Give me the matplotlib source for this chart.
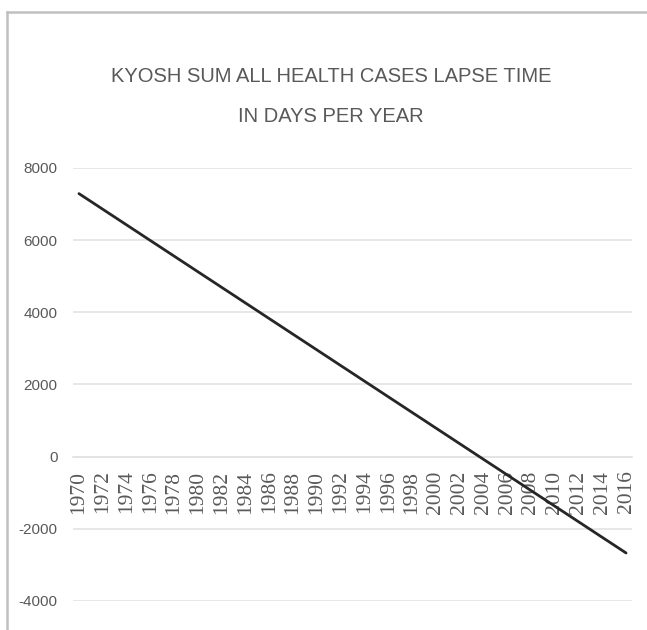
import matplotlib
matplotlib.use("Agg")
import matplotlib.pyplot as plt
from matplotlib import font_manager
from matplotlib.lines import Line2D

years = list(range(1970, 2017))
lapse_days = [7290, 7074, 6857, 6641, 6424, 6208, 5991, 5775, 5558, 5342,
              5125, 4909, 4692, 4476, 4259, 4043, 3826, 3610, 3393, 3177,
              2960, 2744, 2527, 2311, 2094, 1878, 1661, 1445, 1228, 1012,
              795, 579, 362, 146, -71, -287, -504, -720, -937, -1153,
              -1370, -1586, -1803, -2019, -2236, -2452, -2669]
y_ticks = [-4000, -2000, 0, 2000, 4000, 6000, 8000]
title_lines = ["KYOSH SUM ALL HEALTH CASES LAPSE TIME", "IN DAYS PER YEAR"]

names = {f.name for f in font_manager.fontManager.ttflist}
narrow = "Liberation Sans Narrow" if "Liberation Sans Narrow" in names else "Liberation Sans"
serif = "Liberation Serif" if "Liberation Serif" in names else "DejaVu Serif"

W, H = 647, 630
fig = plt.figure(figsize=(W / 100, H / 100), dpi=100)
fig.patch.set_facecolor("white")

# chart border (top and left visible)
fig.add_artist(Line2D([7 / W, 1.0], [1 - 12 / H, 1 - 12 / H], transform=fig.transFigure,
                      color="#c0c0c0", lw=1.8))
fig.add_artist(Line2D([7 / W, 7 / W], [0.0, 1 - 12 / H], transform=fig.transFigure,
                      color="#c0c0c0", lw=1.8))

txt_color = "#595959"
fig.text(0.512, 1 - 76 / H, title_lines[0], ha="center", va="center",
         fontsize=14.5, color=txt_color, family=narrow)
fig.text(0.512, 1 - 116 / H, title_lines[1], ha="center", va="center",
         fontsize=14.5, color=txt_color, family=narrow)

left, right = 73 / W, 632 / W
bottom, top = 1 - 601 / H, 1 - 168 / H
ax = fig.add_axes([left, bottom, right - left, top - bottom])

ax.spines["bottom"].set_position(("data", 0))
ax.spines["bottom"].set_color("#e3e3e3")
ax.spines["bottom"].set_linewidth(1.2)
for s in ["top", "right", "left"]:
    ax.spines[s].set_visible(False)

x = list(range(len(years)))
ax.plot(x, lapse_days, color="#262626", lw=2.0, solid_capstyle="round", zorder=3)

ax.set_xlim(-0.5, len(years) - 0.5)
ax.set_ylim(-4000, 8000)
ax.set_yticks(y_ticks)
ax.set_yticklabels([str(v) for v in y_ticks], family=narrow, fontsize=11, color=txt_color)
ax.grid(axis="y", color="#e3e3e3", lw=1.2)
ax.set_axisbelow(True)

label_idx = [i for i in x if (years[i] - years[0]) % 2 == 0]
ax.set_xticks(label_idx)
ax.set_xticklabels([str(years[i]) for i in label_idx], rotation=90, family=serif,
                   fontsize=15.5, color=txt_color, va="top", ha="center")
ax.tick_params(axis="x", length=0, pad=10)
ax.tick_params(axis="y", length=0, pad=11)

fig.savefig("out.png", dpi=100)
